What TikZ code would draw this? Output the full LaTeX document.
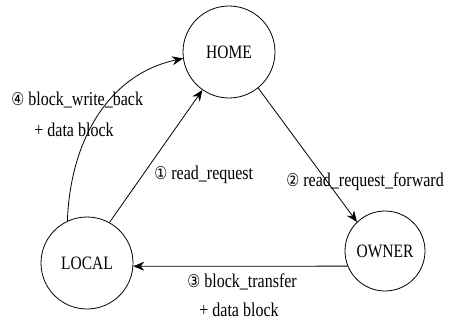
\documentclass[tikz,border=0pt]{standalone}
\usepackage{fontspec}
\setmainfont{Liberation Serif}
\newfontfamily\circfont{DejaVu Sans}
\usetikzlibrary{arrows.meta}

\newcommand{\cnum}[1]{{\circfont\fontsize{14.5}{16}\selectfont #1}}
\newcommand{\tall}[1]{\scalebox{1}[1.22]{#1}}

\begin{document}
\begin{tikzpicture}[x=1pt,y=1pt,line width=0.8pt,
	state/.style={draw,circle,inner sep=0pt,font=\fontsize{15.5}{18}\selectfont},
	msg/.style={anchor=west,inner sep=0pt,font=\fontsize{16}{19}\selectfont},
	>={Stealth[length=11pt,width=9pt]}]
			\useasboundingbox (0,0) rectangle (455,322);
			\node[state,minimum size=92pt] (HOME)at(229,270) {\tall{HOME}};
			\node[state,minimum size=92pt] (LOCAL)at(87,59) {\tall{LOCAL}};
			\node[state,minimum size=80pt] (OWNER)at(385,71) {\tall{OWNER}};
			\node[msg] (L1)at(154,147) {\tall{\cnum{①} read\_request}};
			\node[msg] (L2)at(286,140) {\tall{\cnum{②} read\_request\_forward}};
			\node[msg] (L3a)at(187,40) {\tall{\cnum{③} block\_transfer}};
			\node[msg] (L3b)at(199,12) {\tall{+ data block}};
			\node[msg] (L4a)at(11,222) {\tall{\cnum{④} block\_write\_back}};
			\node[msg] (L4b)at(34,192) {\tall{+ data block}};
			\draw[->] (LOCAL.61) -- (HOME.235);
			\draw[->] (HOME.-51) -- (OWNER.134);
			\draw[->] (OWNER.202) -- (LOCAL.-4);
			\draw[->] (LOCAL.115) to[out=88,in=192] (HOME.188);
		\end{tikzpicture}
\end{document}
